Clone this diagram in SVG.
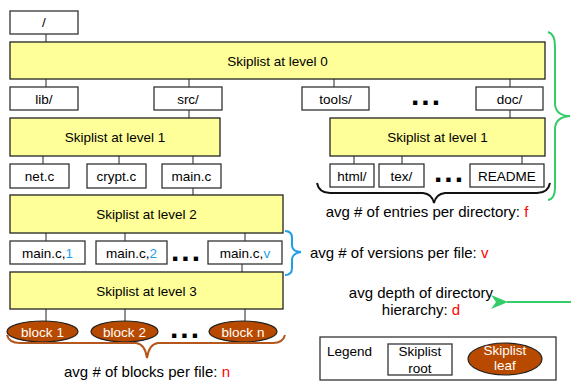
<svg xmlns="http://www.w3.org/2000/svg" width="571" height="381" viewBox="0 0 571 381">
<style>
text{font-family:"Liberation Sans",Arial,sans-serif;font-size:13.5px;fill:#000}
.box{fill:#fff;stroke:#333;stroke-width:1.3}
.sl{fill:#ffff99;stroke:#222;stroke-width:1.3}
.leaf{fill:#b84a00;stroke:#222;stroke-width:1.2}
.c{text-anchor:middle}
.w{fill:#fff}
.lbl{font-size:15px}
.red{fill:#ff0000}
.blu{fill:#1ea0e8}
.dots{font-size:30px;font-weight:bold;letter-spacing:2px}
.con line{stroke:#222;stroke-width:1}
</style>
<defs>
<marker id="ga" markerWidth="18" markerHeight="14" refX="1" refY="7" orient="auto" markerUnits="userSpaceOnUse" viewBox="0 0 18 14">
<path d="M17,0 L0,7 L17,14 L12,7 Z" fill="#33cc66"/>
</marker>
</defs>
<g id="connectors" class="con">
<line x1="46" y1="34" x2="46" y2="42"/>
<line x1="46" y1="79" x2="46" y2="87"/>
<line x1="189" y1="79" x2="189" y2="87"/>
<line x1="334" y1="79" x2="334" y2="87"/>
<line x1="510" y1="79" x2="510" y2="87"/>
<line x1="189" y1="110" x2="189" y2="118"/>
<line x1="510" y1="110" x2="510" y2="118"/>
<line x1="43" y1="156" x2="43" y2="164"/>
<line x1="119" y1="156" x2="119" y2="164"/>
<line x1="193" y1="156" x2="193" y2="164"/>
<line x1="354" y1="156" x2="354" y2="164"/>
<line x1="402" y1="156" x2="402" y2="164"/>
<line x1="522" y1="156" x2="522" y2="164"/>
<line x1="193" y1="188" x2="193" y2="195"/>
<line x1="46" y1="233" x2="46" y2="241"/>
<line x1="125" y1="233" x2="125" y2="241"/>
<line x1="245" y1="233" x2="245" y2="241"/>
<line x1="242" y1="264" x2="242" y2="272"/>
<line x1="46" y1="309" x2="46" y2="321"/>
<line x1="125" y1="309" x2="125" y2="321"/>
<line x1="245" y1="309" x2="245" y2="321"/>
</g>
<g id="root"><rect class="box" x="10" y="11" width="68" height="23"/><text class="c" x="44" y="27">/</text></g>
<g id="level0"><rect class="sl" x="10" y="42" width="535" height="37"/><text class="c" x="277.5" y="65.5">Skiplist at level 0</text></g>
<g id="lib"><rect class="box" x="10" y="87" width="68" height="23"/><text class="c" x="44" y="103.5">lib/</text></g>
<g id="src"><rect class="box" x="154" y="87" width="68" height="23"/><text class="c" x="188" y="103.5">src/</text></g>
<g id="tools"><rect class="box" x="302" y="87" width="67" height="23"/><text class="c" x="335.5" y="103.5">tools/</text></g>
<g id="dots0"><text class="dots" x="411" y="105">...</text></g>
<g id="doc"><rect class="box" x="476" y="87" width="67" height="23"/><text class="c" x="509.5" y="103.5">doc/</text></g>
<g id="level1a"><rect class="sl" x="10" y="118" width="210" height="38"/><text class="c" x="115" y="142">Skiplist at level 1</text></g>
<g id="level1b"><rect class="sl" x="330" y="118" width="215" height="38"/><text class="c" x="437.5" y="142">Skiplist at level 1</text></g>
<g id="netc"><rect class="box" x="10" y="164" width="59" height="24"/><text class="c" x="39.5" y="181">net.c</text></g>
<g id="cryptc"><rect class="box" x="87" y="164" width="59" height="24"/><text class="c" x="116.5" y="181">crypt.c</text></g>
<g id="mainc"><rect class="box" x="162" y="164" width="59" height="24"/><text class="c" x="191.5" y="181">main.c</text></g>
<g id="html"><rect class="box" x="330" y="164" width="44" height="23"/><text class="c" x="352" y="180.5">html/</text></g>
<g id="tex"><rect class="box" x="379" y="164" width="45" height="23"/><text class="c" x="401.5" y="180.5">tex/</text></g>
<g id="dots1"><text class="dots" x="434" y="182">...</text></g>
<g id="readme"><rect class="box" x="470" y="164" width="74" height="23"/><text class="c" x="507" y="180.5">README</text></g>
<g id="level2"><rect class="sl" x="10" y="195" width="273" height="38"/><text class="c" x="146.5" y="219">Skiplist at level 2</text></g>
<g id="mainc1"><rect class="box" x="10" y="241" width="75" height="23"/><text class="c" x="47.5" y="257.5">main.c,<tspan class="blu">1</tspan></text></g>
<g id="mainc2"><rect class="box" x="96" y="241" width="71" height="23"/><text class="c" x="131.5" y="257.5">main.c,<tspan class="blu">2</tspan></text></g>
<g id="dots2"><text class="dots" x="171" y="261">...</text></g>
<g id="maincv"><rect class="box" x="208" y="241" width="74" height="23"/><text class="c" x="245" y="257.5">main.c,<tspan class="blu">v</tspan></text></g>
<g id="level3"><rect class="sl" x="10" y="272" width="273" height="37"/><text class="c" x="146.5" y="296">Skiplist at level 3</text></g>
<g id="block1"><ellipse class="leaf" cx="42.5" cy="331.5" rx="35.5" ry="10.5"/><text class="c w" x="42.5" y="336.5">block 1</text></g>
<g id="block2"><ellipse class="leaf" cx="124.5" cy="331.5" rx="33.5" ry="10.5"/><text class="c w" x="124.5" y="336.5">block 2</text></g>
<g id="dots3"><text class="dots" x="170" y="338">...</text></g>
<g id="blockn"><ellipse class="leaf" cx="243" cy="331.5" rx="34" ry="10.5"/><text class="c w" x="243" y="336.5">block n</text></g>
<g id="braces" fill="none" stroke-width="2">
<path d="M317,183 Q319,193 330,193 L423,193 Q432,194 434,203 Q436,194 445,193 L537,193 Q548,193 550,183" stroke="#111"/>
<path d="M7,335 Q9,343 20,343 L136,343 Q145,344 147,358 Q149,344 158,343 L273,343 Q283,343 285,335" stroke="#b5561c"/>
<path d="M285,231 Q292,231 292,238 L292,246 Q293,252 301,252 Q293,253 292,259 L292,268 Q292,275 285,275" stroke="#1ea0e8"/>
<path d="M548,32 Q555,34 555,46 L555,104 Q556,116 570,116 Q556,117 555,128 L555,188 Q555,199 548,200" stroke="#33cc66"/>
</g>
<g id="arrow"><line x1="571" y1="302" x2="507" y2="302" stroke="#33cc66" stroke-width="2" marker-end="url(#ga)"/></g>
<g id="labels">
<text class="c lbl" x="427" y="217">avg # of entries per directory: <tspan class="red">f</tspan></text>
<text class="lbl" x="310" y="258">avg # of versions per file: <tspan class="red">v</tspan></text>
<text class="c lbl" x="421" y="298">avg depth of directory</text>
<text class="c lbl" x="421" y="315">hierarchy: <tspan class="red">d</tspan></text>
<text class="c lbl" x="147" y="377">avg # of blocks per file: <tspan class="red">n</tspan></text>
</g>
<g id="legend">
<rect x="320" y="337" width="236" height="43" fill="#fff" stroke="#333" stroke-width="1.3"/>
<text x="327" y="356">Legend</text>
<rect class="box" x="388" y="344" width="64" height="31"/>
<text class="c" x="420" y="356">Skiplist</text>
<text class="c" x="420" y="373">root</text>
<ellipse class="leaf" cx="505" cy="359" rx="37" ry="16"/>
<text class="c w" x="505" y="355">Skiplist</text>
<text class="c w" x="505" y="370">leaf</text>
</g>
</svg>
